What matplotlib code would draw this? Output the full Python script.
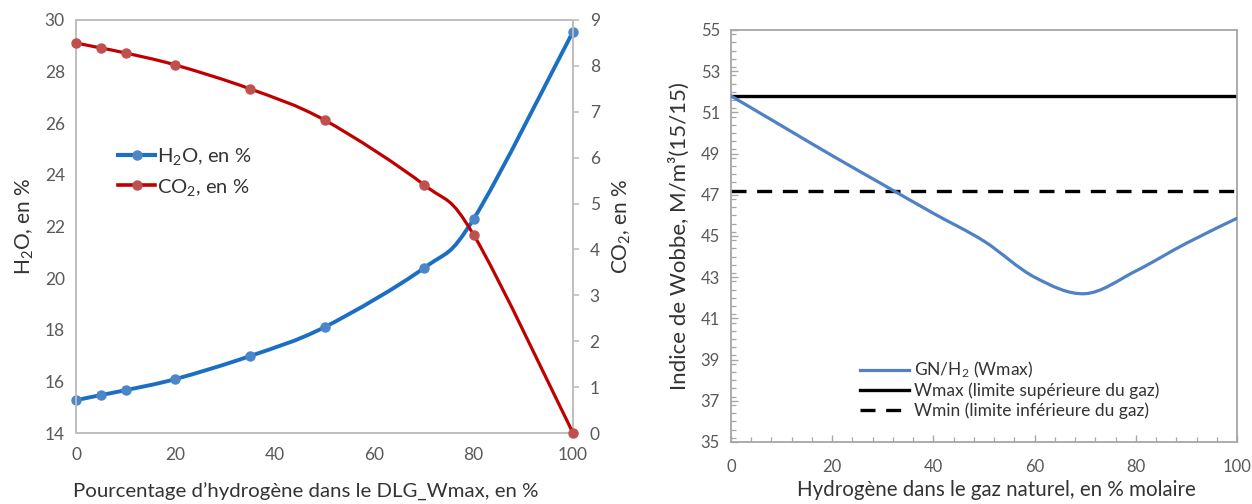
import matplotlib
matplotlib.use("Agg")
import matplotlib.pyplot as plt
from matplotlib.path import Path
from matplotlib.patches import PathPatch
from matplotlib.lines import Line2D
from matplotlib.ticker import MultipleLocator
import numpy as np

plt.rcParams["font.family"] = ["Lato", "Noto Sans", "DejaVu Sans"]
plt.rcParams["mathtext.fontset"] = "custom"
plt.rcParams["mathtext.rm"] = "Lato"
plt.rcParams["mathtext.it"] = "Lato:italic"
plt.rcParams["mathtext.bf"] = "Lato:bold"
plt.rcParams["mathtext.default"] = "rm"

# Left panel: combustion products vs hydrogen share
h2_share = [0, 5, 10, 20, 35, 50, 70, 80, 100]
h2o_pct = [15.27, 15.47, 15.66, 16.09, 16.98, 18.10, 20.39, 22.29, 29.55]
co2_pct = [8.50, 8.39, 8.28, 8.02, 7.50, 6.82, 5.41, 4.32, 0.0]

# Right panel: Wobbe index of the blend
h2_molar = [0, 10, 20, 30, 40, 50, 60, 70, 80, 90, 100]
wobbe = [51.8, 50.35, 48.9, 47.5, 46.1, 44.75, 43.0, 42.2, 43.3, 44.65, 45.86]
wobbe_max = 51.8
wobbe_min = 47.2

GRAY_TXT = "#595959"
GRAY_AX = "#bfbfbf"
LABEL = "#333333"


def smooth_path(x, y):
    """Bezier path through the points (Excel-style smoothed line)."""
    pts = np.column_stack([x, y]).astype(float)
    n = len(pts)
    verts = [pts[0]]
    codes = [Path.MOVETO]
    for i in range(n - 1):
        p0 = pts[i - 1] if i > 0 else pts[i]
        p1 = pts[i]
        p2 = pts[i + 1]
        p3 = pts[i + 2] if i + 2 < n else pts[i + 1]
        c1 = p1 + (p2 - p0) / 6.0
        c2 = p2 - (p3 - p1) / 6.0
        verts += [c1, c2, p2]
        codes += [Path.CURVE4] * 3
    return Path(np.array(verts), codes)


def draw_smooth(ax, x, y, color, lw, zorder=3):
    patch = PathPatch(smooth_path(x, y), facecolor="none", edgecolor=color,
                      lw=lw, capstyle="round", joinstyle="round", zorder=zorder)
    ax.add_patch(patch)


fig = plt.figure(figsize=(12.52, 5.04), dpi=100)

# ---------------- left panel ----------------
ax1 = fig.add_axes([76 / 1252, 1 - 433 / 504, 497 / 1252, 413 / 504])
ax2 = ax1.twinx()

h2o_line = "#1a6fc4"
h2o_mark = "#4a86c8"
co2_line = "#c00000"
co2_mark = "#c0504d"

draw_smooth(ax1, h2_share, h2o_pct, h2o_line, 2.8)
ax1.plot(h2_share, h2o_pct, linestyle="none", marker="o", ms=6.5,
         color=h2o_mark, zorder=4, clip_on=False)
draw_smooth(ax2, h2_share, co2_pct, co2_line, 2.3)
ax2.plot(h2_share, co2_pct, linestyle="none", marker="o", ms=6.5,
         color=co2_mark, zorder=4, clip_on=False)

ax1.set_xlim(0, 100)
ax1.set_ylim(14, 30)
ax2.set_ylim(0, 9)
ax1.set_xticks(range(0, 101, 20))
ax1.set_yticks(range(14, 31, 2))
ax2.set_yticks(range(0, 10))

for a in (ax1, ax2):
    for s in a.spines.values():
        s.set_color(GRAY_AX)
        s.set_linewidth(1.3)
ax1.tick_params(axis="both", length=0, labelsize=12.5, labelcolor=GRAY_TXT, pad=10)
ax1.tick_params(axis="y", pad=8)
ax2.tick_params(axis="y", length=4, color=GRAY_AX, width=1.2, labelsize=12.5,
                labelcolor=GRAY_TXT, pad=8)

ax1.set_xlabel("Pourcentage d’hydrogène dans le DLG_Wmax, en %",
               fontsize=14.7, color=LABEL, va="center")
ax1.xaxis.set_label_coords(0.463, -0.143)
ax1.set_ylabel(r"H$_2$O, en %", fontsize=15, color=LABEL, labelpad=6)
ax2.set_ylabel(r"CO$_2$, en %", fontsize=15, color=LABEL, labelpad=8)

handles = [
    Line2D([], [], color=h2o_line, lw=3, marker="o", ms=6.5,
           markerfacecolor=h2o_mark, markeredgecolor=h2o_mark),
    Line2D([], [], color=co2_line, lw=2.6, marker="o", ms=6.5,
           markerfacecolor=co2_mark, markeredgecolor=co2_mark),
]
ax1.legend(handles, [r"H$_2$O, en %", r"CO$_2$, en %"], loc="center left",
           bbox_to_anchor=(0.048, 0.632), frameon=False, fontsize=14.5,
           handlelength=1.85, handletextpad=0.08, labelspacing=0.45,
           labelcolor=LABEL)

# ---------------- right panel ----------------
ax3 = fig.add_axes([731 / 1252, 1 - 442 / 504, 506 / 1252, 412 / 504])
draw_smooth(ax3, h2_molar, wobbe, "#4f81c4", 2.3)
ax3.axhline(wobbe_max, color="black", lw=2.4, zorder=2)
ax3.axhline(wobbe_min, color="black", lw=2.4, dashes=(4.5, 3.2), zorder=2)

ax3.set_xlim(0, 100)
ax3.set_ylim(35, 55)
ax3.set_xticks(range(0, 101, 20))
ax3.set_yticks(range(35, 56, 2))
ax3.xaxis.set_minor_locator(MultipleLocator(4))
ax3.yaxis.set_minor_locator(MultipleLocator(0.4))
for s in ax3.spines.values():
    s.set_color("#a6a6a6")
    s.set_linewidth(1.3)
ax3.tick_params(axis="both", which="major", direction="in", length=5,
                color="#a6a6a6", width=1.0, labelsize=12, labelcolor=GRAY_TXT)
ax3.tick_params(axis="both", which="minor", direction="in", length=3.5,
                color="#a6a6a6", width=0.9)
ax3.tick_params(axis="x", which="major", pad=12)
ax3.tick_params(axis="y", which="major", pad=8)

ax3.set_xlabel("Hydrogène dans le gaz naturel, en % molaire", fontsize=14.8,
               color=LABEL, va="center")
ax3.xaxis.set_label_coords(0.525, -0.117)
ax3.set_ylabel("Indice de Wobbe, M/m³(15/15)", fontsize=16, color=LABEL,
               labelpad=8)

leg_handles = [
    Line2D([], [], color="#4f81c4", lw=2.3),
    Line2D([], [], color="black", lw=2.4),
    Line2D([], [], color="black", lw=2.4, dashes=(4.5, 3.2)),
]
ax3.legend(leg_handles, [r"GN/H$_2$ (Wmax)", "Wmax (limite supérieure du gaz)",
                         "Wmin (limite inférieure du gaz)"],
           loc="center left", bbox_to_anchor=(0.225, 0.128), frameon=False,
           fontsize=12.5, handlelength=2.8, handletextpad=0.3,
           labelspacing=0.15, labelcolor=LABEL)

fig.savefig("out.png", dpi=100)
